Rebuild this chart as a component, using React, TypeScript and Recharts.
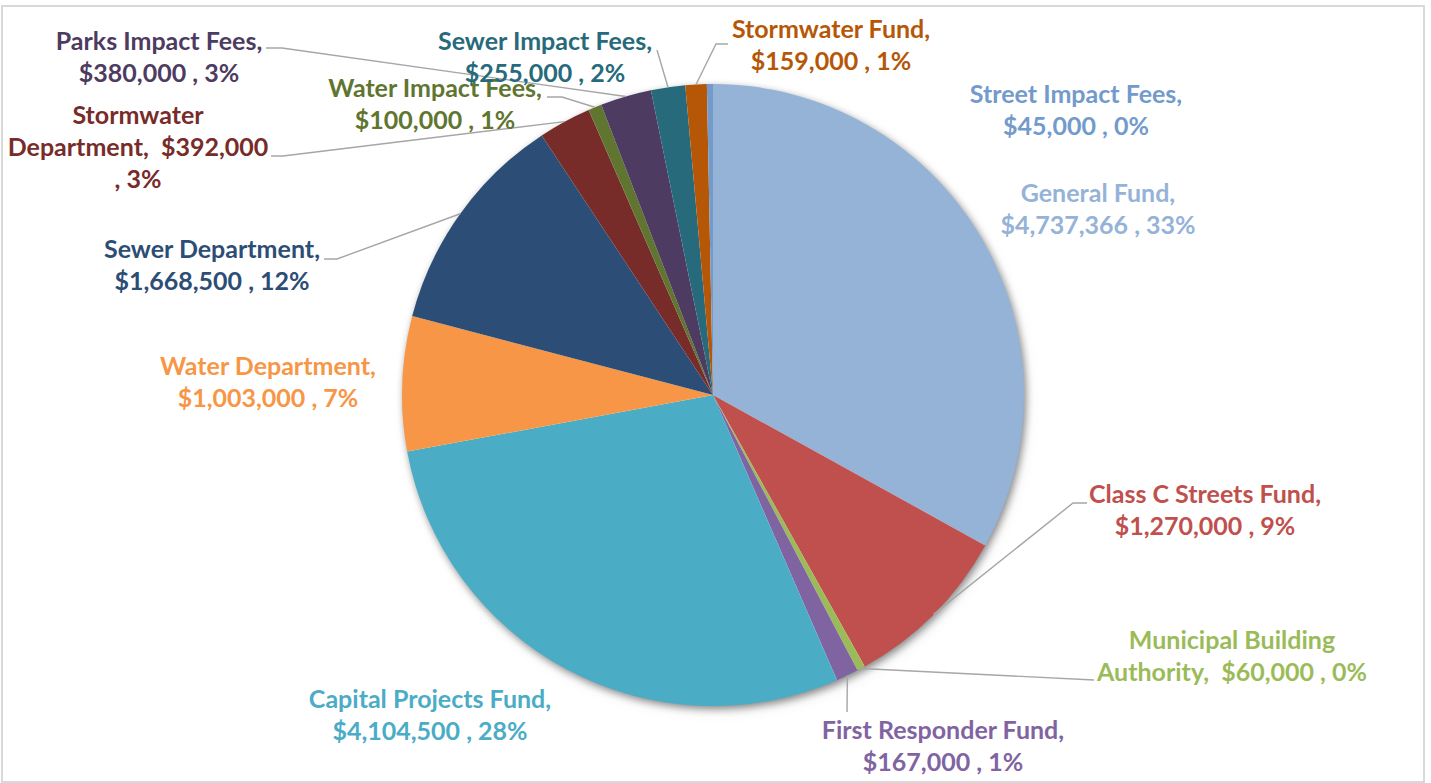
import React from 'react';
import { PieChart, Pie, Cell } from 'recharts';

// ---- data ----
const categories = [
  'General Fund',
  'Class C Streets Fund',
  'Municipal Building Authority',
  'First Responder Fund',
  'Capital Projects Fund',
  'Water Department',
  'Sewer Department',
  'Stormwater Department',
  'Water Impact Fees',
  'Parks Impact Fees',
  'Sewer Impact Fees',
  'Stormwater Fund',
  'Street Impact Fees',
];
const amounts = [4737366, 1270000, 60000, 167000, 4104500, 1003000, 1668500, 392000, 100000, 380000, 255000, 159000, 45000];
const percentLabels = ['33%', '9%', '0%', '1%', '28%', '7%', '12%', '3%', '1%', '3%', '2%', '1%', '0%'];

// ---- styles ----
const sliceColors = ['#95B3D7', '#C0504D', '#9BBB59', '#8064A2', '#4BACC6', '#F79646', '#2C4D75', '#772C2A', '#5F7530', '#4D3B62', '#276A7C', '#B65708', '#729ACA'];

const W = 1431;
const H = 783;
const PIE_CX = 713;
const PIE_CY = 395;
const PIE_R = 311;
const LINE_H = 32;
const FONT_SIZE = 25;
const FONT = 'Lato, "Open Sans", sans-serif';

type Wrap = 'std' | 'first1' | 'first2';
type LabelLayout = { x: number; y: number; wrap: Wrap; leader?: [number, number][] };

// label placement (text centre x, first baseline y) and leader elbow points
const labelLayout: LabelLayout[] = [
  { x: 1098, y: 202, wrap: 'std' },
  { x: 1205, y: 503, wrap: 'std', leader: [[1087, 503], [1073, 503]] },
  { x: 1232, y: 649, wrap: 'first2', leader: [[1094, 680]] },
  { x: 943, y: 739, wrap: 'std', leader: [[847, 712]] },
  { x: 430, y: 708, wrap: 'std' },
  { x: 268, y: 375, wrap: 'std' },
  { x: 212, y: 258, wrap: 'std', leader: [[324, 259], [337, 259]] },
  { x: 138, y: 124, wrap: 'first1', leader: [[271, 156], [283, 156]] },
  { x: 435, y: 97, wrap: 'std', leader: [[547, 97], [562, 97]] },
  { x: 159, y: 50, wrap: 'std', leader: [[266, 48], [282, 48]] },
  { x: 545, y: 50, wrap: 'std', leader: [[657, 50]] },
  { x: 831, y: 38, wrap: 'std', leader: [[728, 44], [716, 44]] },
  { x: 1076, y: 103, wrap: 'std' },
];

const data = categories.map((name, i) => ({ name, value: amounts[i] }));
const total = amounts.reduce((a, b) => a + b, 0);
const shadowData = [{ name: 'total', value: total }];

const money = (v: number) => '$' + v.toLocaleString('en-US');

function labelLines(i: number): string[] {
  const name = categories[i];
  const m = money(amounts[i]);
  const p = percentLabels[i];
  const wrap = labelLayout[i].wrap;
  const words = name.split(' ');
  if (wrap === 'first1') {
    return [words[0], `${words.slice(1).join(' ')},\u00A0\u00A0${m}`, `, ${p}`];
  }
  if (wrap === 'first2') {
    return [words.slice(0, 2).join(' '), `${words.slice(2).join(' ')},\u00A0\u00A0${m} , ${p}`];
  }
  return [`${name},`, `${m} , ${p}`];
}

const RAD = Math.PI / 180;

const renderLabel = (props: any) => {
  const { cx, cy, midAngle, outerRadius, index } = props;
  const lay = labelLayout[index];
  const color = sliceColors[index];
  const lines = labelLines(index);
  const ex = cx + outerRadius * Math.cos(-midAngle * RAD);
  const ey = cy + outerRadius * Math.sin(-midAngle * RAD);
  const pts = lay.leader ? [...lay.leader, [ex, ey]] : null;
  return (
    <g key={`lbl-${index}`}>
      {pts && (
        <polyline
          points={pts.map((p) => `${p[0]},${p[1]}`).join(' ')}
          fill="none"
          stroke="#A6A6A6"
          strokeWidth={1.4}
        />
      )}
      <text
        x={lay.x}
        y={lay.y}
        textAnchor="middle"
        fill={color}
        fontFamily={FONT}
        fontWeight={700}
        fontSize={FONT_SIZE}
      >
        {lines.map((l, k) => (
          <tspan key={k} x={lay.x} y={lay.y + k * LINE_H} style={{ whiteSpace: 'pre' }}>
            {l}
          </tspan>
        ))}
      </text>
    </g>
  );
};

export default function App() {
  return (
    <div style={{ position: 'absolute', left: 0, top: 0, width: W, height: H, background: '#fff' }}>
      <style>{`.pie-shadow { filter: drop-shadow(2px 3px 4px rgba(0,0,0,0.3)); }`}</style>
      <div
        style={{
          position: 'absolute',
          left: 1,
          top: 5,
          width: 1424,
          height: 778,
          border: '2px solid #D9D9D9',
          boxSizing: 'border-box',
        }}
      />
      <div style={{ position: 'absolute', left: 0, top: 0 }}>
        <PieChart width={W} height={H} margin={{ top: 0, right: 0, bottom: 0, left: 0 }}>
          <Pie
            className="pie-shadow"
            data={shadowData}
            dataKey="value"
            cx={PIE_CX}
            cy={PIE_CY}
            outerRadius={PIE_R - 1}
            startAngle={90}
            endAngle={-270}
            fill="#ffffff"
            stroke="none"
            label={false}
            labelLine={false}
            isAnimationActive={false}
          />
          <Pie
            data={data}
            dataKey="value"
            nameKey="name"
            cx={PIE_CX}
            cy={PIE_CY}
            outerRadius={PIE_R}
            startAngle={90}
            endAngle={-270}
            stroke="none"
            label={renderLabel}
            labelLine={false}
            isAnimationActive={false}
          >
            {data.map((d, i) => (
              <Cell key={d.name} fill={sliceColors[i]} />
            ))}
          </Pie>
        </PieChart>
      </div>
    </div>
  );
}
